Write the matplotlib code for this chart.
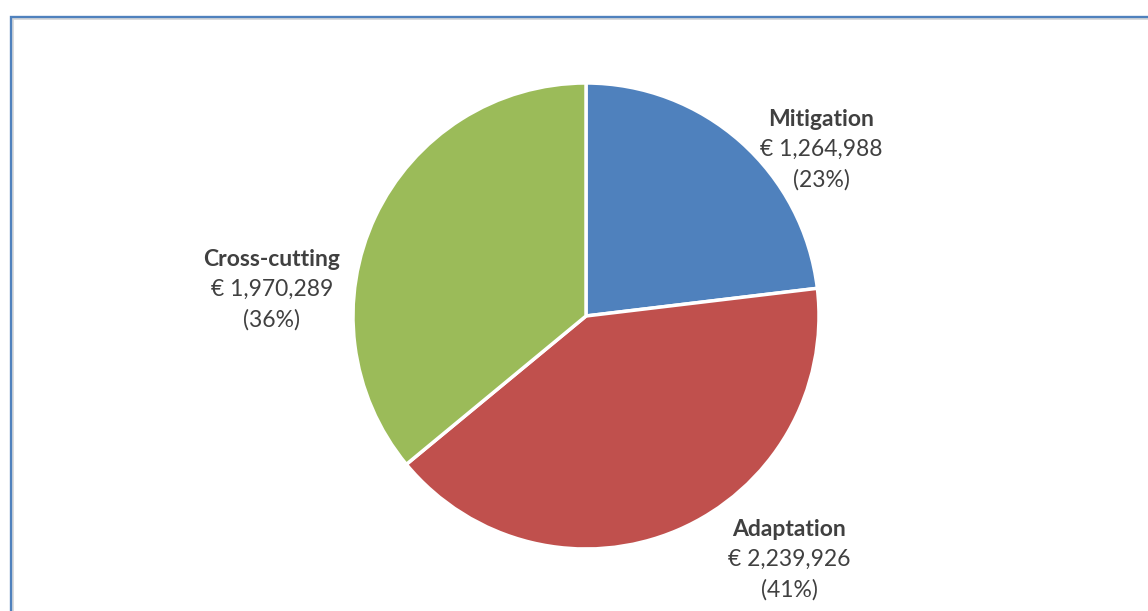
import matplotlib
matplotlib.use("Agg")
import matplotlib.pyplot as plt
from matplotlib.patches import Rectangle

categories = ["Mitigation", "Adaptation", "Cross-cutting"]
values = [1264988, 2239926, 1970289]
colors = ["#4F81BD", "#C0504D", "#9BBB59"]

W, H = 1148, 611
fig = plt.figure(figsize=(W / 100, H / 100), dpi=100)
ax = fig.add_axes([0, 0, 1, 1])
ax.set_xlim(0, W)
ax.set_ylim(0, H)
ax.set_aspect("equal")
ax.axis("off")

# frame
ax.add_patch(Rectangle((10.5, -20), W + 40, H - 16.5 + 20, fill=False,
                       edgecolor="#4F81BD", linewidth=2.4, zorder=1))
ax.add_patch(Rectangle((13, -20), W + 40, H - 19 + 20, fill=False,
                       edgecolor="#D9D9D9", linewidth=1.2, zorder=1))

cx, cy, r = 586, H - 316, 233
ax.pie(values, colors=colors, startangle=90, counterclock=False,
       center=(cx, cy), radius=r,
       wedgeprops=dict(edgecolor="white", linewidth=2.5))
ax.set_xlim(0, W)
ax.set_ylim(0, H)

total = sum(values)
label_pos = [(821, 120), (789, 530), (272, 260)]
font = ["Lato", "DejaVu Sans"]
tc = "#404040"
fs = 16.5
for name, v, (x, y) in zip(categories, values, label_pos):
    pct = round(100 * v / total)
    ax.text(x, H - y, name, ha="center", va="center", fontsize=fs,
            fontweight="bold", color=tc, family=font)
    ax.text(x, H - y - 29, f"€ {v:,}", ha="center", va="center",
            fontsize=fs, color=tc, family=font)
    ax.text(x, H - y - 60, f"({pct}%)", ha="center", va="center",
            fontsize=fs, color=tc, family=font)

fig.savefig("out.png", dpi=100)
